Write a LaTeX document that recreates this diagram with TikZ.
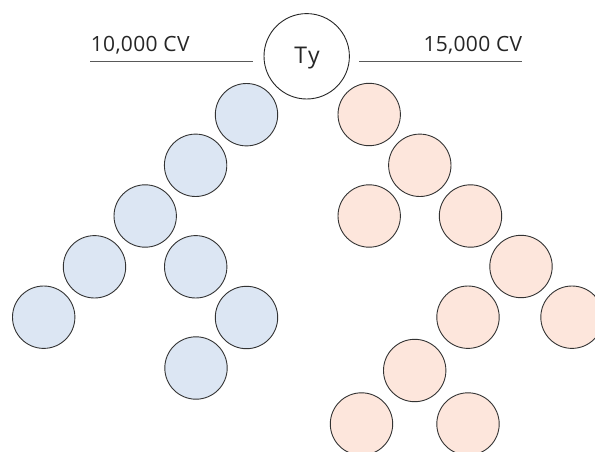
\documentclass[tikz,border=0pt]{standalone}
\usepackage{fontspec}
\setmainfont{Open Sans}
\newfontfamily\lblfont[LetterSpace=1.5]{Open Sans}
\begin{document}
\begin{tikzpicture}[x=1pt,y=-1pt,
  ball/.style={circle,draw=black!80,line width=0.9pt,minimum size=62.4pt,inner sep=0pt},
  blueball/.style={ball,fill={rgb,255:red,220;green,230;blue,243}},
  pinkball/.style={ball,fill={rgb,255:red,253;green,230;blue,220}},
  rootball/.style={circle,draw=black!85,line width=0.9pt,minimum size=85.4pt,inner sep=0pt,fill=white},
  label/.style={font=\lblfont\fontsize{21}{24}\selectfont,text=black!85,inner sep=0pt},
  rule/.style={draw=black!65,line width=1.4pt}]
\useasboundingbox (0,0) rectangle (595,452);
\clip (0,0) rectangle (595,452);

% root
\node[rootball] (root) at (306.7,56.3) {};
\node[label,font=\fontsize{23}{26}\selectfont,anchor=base] (ty) at (307,63.5) {T\kern1pt y};

% headings with rules
\node[label,anchor=base west] (lefttxt) at (90.7,51.3) {10,000 CV};
\node[label,anchor=base east] (righttxt) at (522.3,51.3) {15,000 CV};
\coordinate (l1) at (90,61.7);
\coordinate (l2) at (252.7,61.7);
\coordinate (r1) at (359.3,61.7);
\coordinate (r2) at (522.3,61.7);
\draw[rule] (l1) -- (l2);
\draw[rule] (r1) -- (r2);

% left group
\node[blueball] (b1) at (246.5,114.7) {};
\node[blueball] (b2) at (195.6,165.3) {};
\node[blueball] (b3) at (145.2,216) {};
\node[blueball] (b4) at (94.5,266.8) {};
\node[blueball] (b5) at (43.7,317.2) {};
\node[blueball] (b6) at (195.7,266.8) {};
\node[blueball] (b7) at (246.5,317.5) {};
\node[blueball] (b8) at (196,368) {};

% right group
\node[pinkball] (p1) at (369.2,114.5) {};
\node[pinkball] (p2) at (419.8,165.3) {};
\node[pinkball] (p3) at (369.2,216) {};
\node[pinkball] (p4) at (470.5,216) {};
\node[pinkball] (p5) at (521,266.5) {};
\node[pinkball] (p6) at (468,317.2) {};
\node[pinkball] (p7) at (572,317.2) {};
\node[pinkball] (p8) at (414.7,370.5) {};
\node[pinkball] (p9) at (361.5,424) {};
\node[pinkball] (p10) at (468,424) {};
\end{tikzpicture}
\end{document}
